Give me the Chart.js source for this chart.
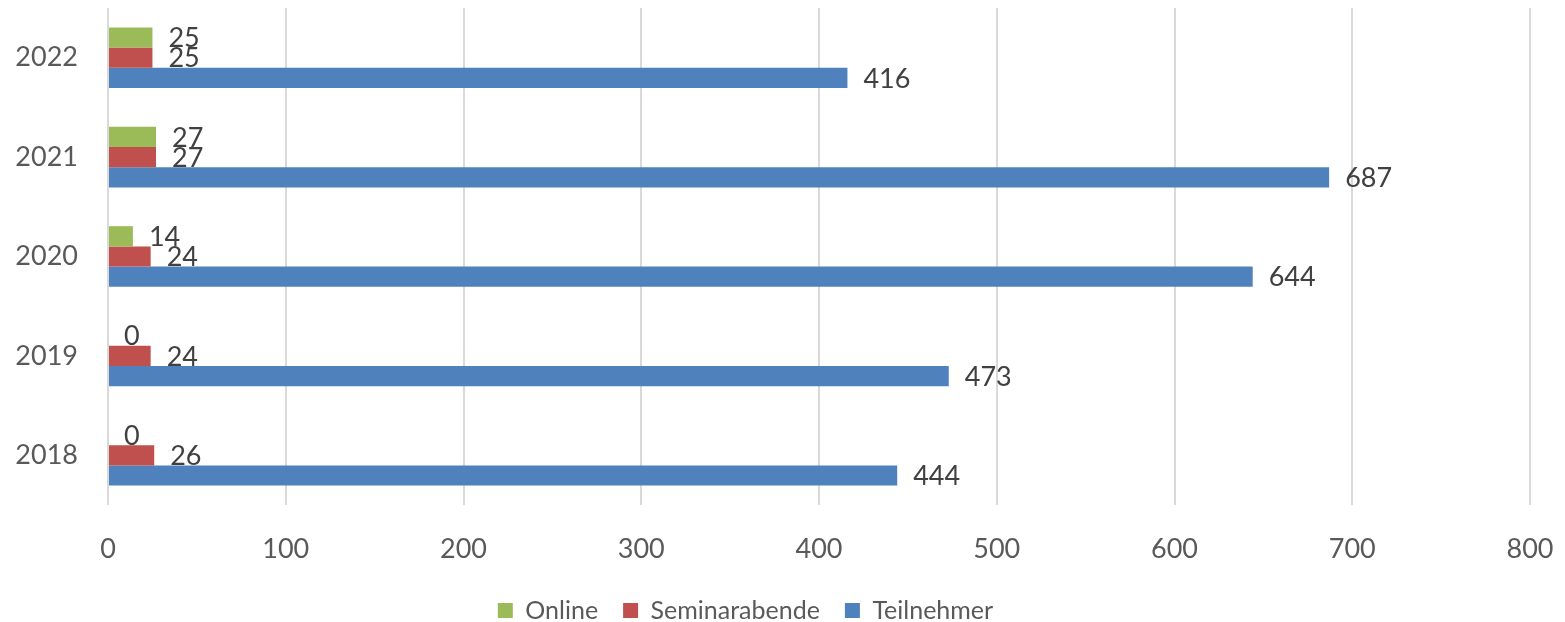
<!DOCTYPE html>
<html>
<head>
<meta charset="utf-8">
<script src="https://cdn.jsdelivr.net/npm/chart.js@4.4.0/dist/chart.umd.min.js"></script>
<style>
  html, body { margin: 0; padding: 0; background: #fff; }
  #wrap { width: 1565px; height: 622px; }
</style>
</head>
<body>
<div id="wrap"><canvas id="barChart"></canvas></div>
<script>
// Jahre (oben nach unten)
const years = ['2022', '2021', '2020', '2019', '2018'];
const online = [25, 27, 14, 0, 0];
const seminarabende = [25, 27, 24, 24, 26];
const teilnehmer = [416, 687, 644, 473, 444];
const xTicks = [0, 100, 200, 300, 400, 500, 600, 700, 800];

const fontFamily = 'Lato, "Open Sans", sans-serif';

// Werte rechts neben den Balken
const valueLabels = {
  id: 'valueLabels',
  afterDatasetsDraw(chart) {
    const ctx = chart.ctx;
    ctx.save();
    ctx.font = '27px ' + fontFamily;
    ctx.fillStyle = '#404040';
    ctx.textAlign = 'left';
    ctx.textBaseline = 'middle';
    chart.data.datasets.forEach((ds, i) => {
      chart.getDatasetMeta(i).data.forEach((bar, j) => {
        ctx.fillText(String(ds.data[j]), bar.x + 16, bar.y + 1);
      });
    });
    ctx.restore();
  }
};

// Legende etwas nach links wie im Original
const legendShift = {
  id: 'legendShift',
  afterLayout(chart) {
    if (chart.legend) {
      chart.legend.left -= 27;
      chart.legend.right -= 27;
    }
  }
};

new Chart(document.querySelector('#barChart'), {
  type: 'bar',
  data: {
    labels: years,
    datasets: [
      { label: 'Online', data: online, backgroundColor: '#9BBB59' },
      { label: 'Seminarabende', data: seminarabende, backgroundColor: '#C0504D' },
      { label: 'Teilnehmer', data: teilnehmer, backgroundColor: '#4F81BD' }
    ]
  },
  options: {
    indexAxis: 'y',
    responsive: true,
    maintainAspectRatio: false,
    animation: false,
    datasets: {
      bar: { categoryPercentage: 0.61, barPercentage: 1.0 }
    },
    layout: { padding: { top: 8, left: 15, right: 35, bottom: -11 } },
    scales: {
      x: {
        min: 0,
        max: 800,
        afterBuildTicks: (axis) => { axis.ticks = xTicks.map(v => ({ value: v })); },
        afterFit: (axis) => {
          axis.height = 68;
          axis.paddingLeft = 0;
          axis.paddingRight = 0;
        },
        grid: { color: '#d9d9d9', lineWidth: 2, drawTicks: false },
        border: { display: false },
        ticks: { color: '#595959', font: { size: 27, family: fontFamily }, padding: 28 }
      },
      y: {
        afterFit: (axis) => {
          axis.width = 93;
          axis.paddingTop = 0;
          axis.paddingBottom = 0;
        },
        grid: { display: false, drawTicks: false },
        border: { display: false },
        ticks: { color: '#595959', font: { size: 27, family: fontFamily }, padding: 30 }
      }
    },
    plugins: {
      legend: {
        position: 'bottom',
        labels: {
          color: '#595959',
          font: { size: 25, family: fontFamily },
          boxWidth: 15,
          boxHeight: 15,
          padding: 25
        }
      },
      tooltip: { enabled: false }
    }
  },
  plugins: [valueLabels, legendShift]
});
</script>
</body>
</html>
